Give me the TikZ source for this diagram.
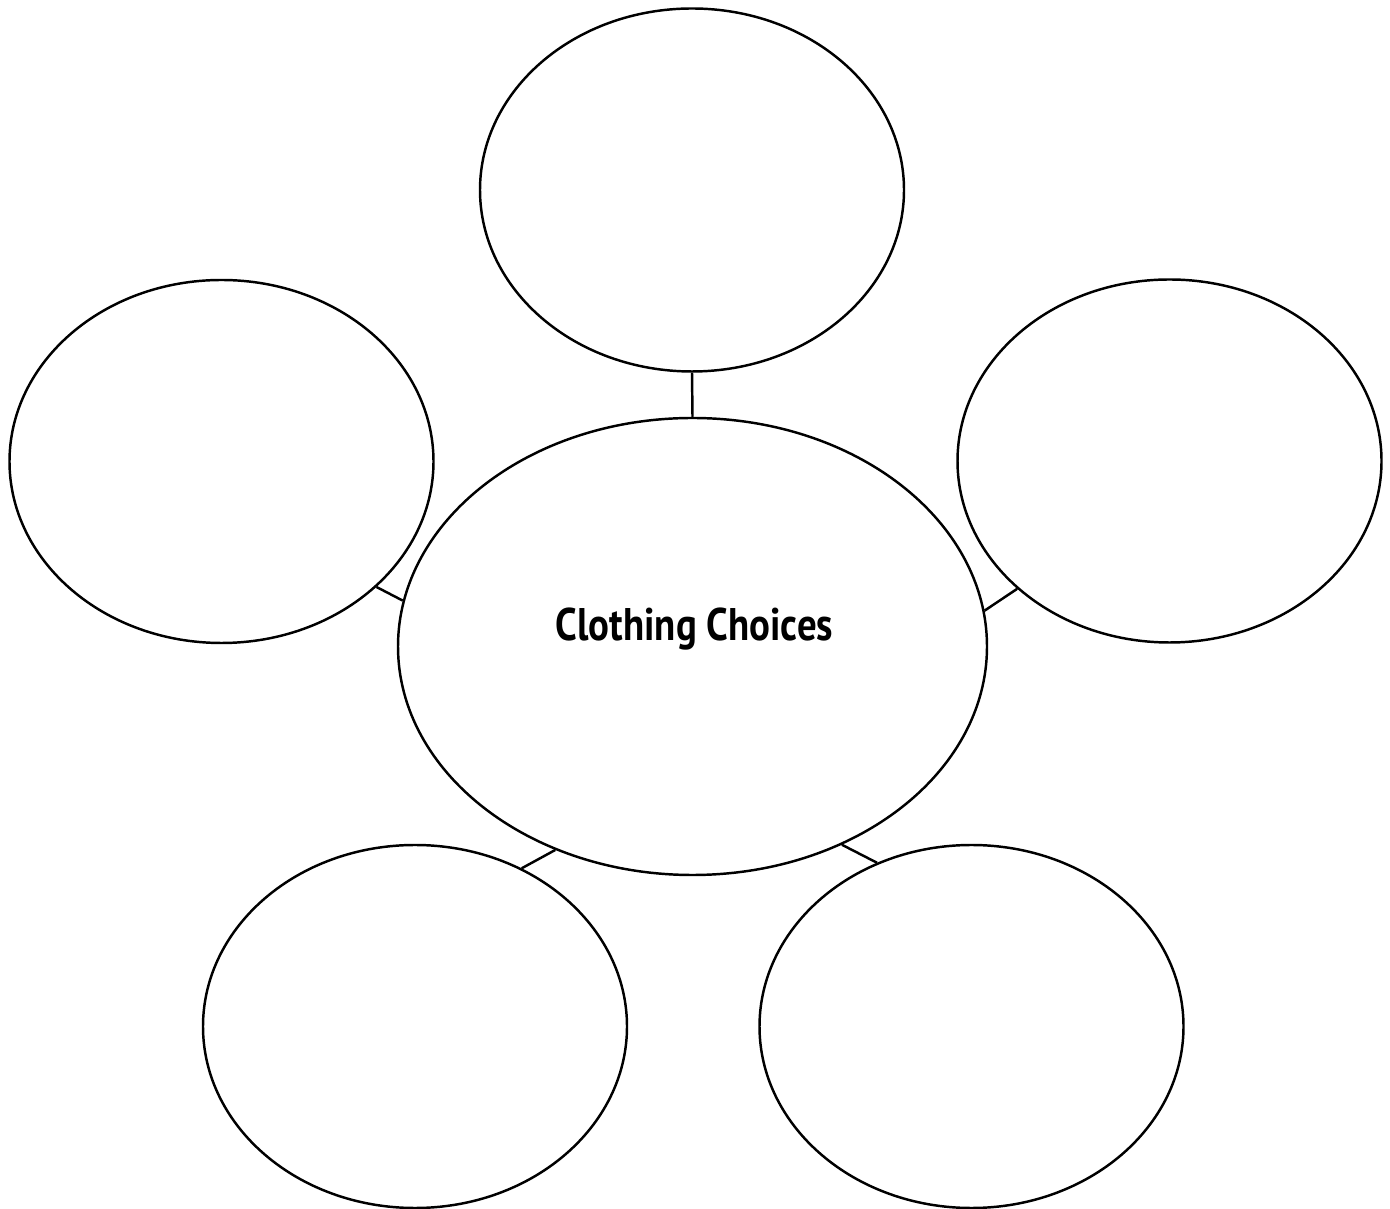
\documentclass[tikz,border=0pt]{standalone}
\usepackage{fontspec}
\newfontfamily\hubfont[FakeStretch=0.85]{PT Sans}
\usetikzlibrary{shapes.geometric, positioning}

\begin{document}
\begin{tikzpicture}[]
    \def\lw{1.4pt}
    \def\satW{8.48cm}
    \def\satH{7.26cm}

    \tikzstyle{bubble} = [draw, ellipse, line width=\lw, inner sep=0pt, minimum width=\satW, minimum height=\satH]
    \tikzstyle{hub} = [bubble, minimum width=11.78cm, minimum height=9.14cm]
    \tikzstyle{spoke} = [line width=\lw]

    \useasboundingbox (0,0) rectangle (27.8,24.16);

    \node (hub) [hub] at (13.85, 11.23) {};
    \node (hubText) [anchor=base, inner sep=0pt, font=\hubfont\bfseries\fontsize{26}{31}\selectfont] at (13.89, 11.34) {Clothing Choices};

    % outer bubbles
    \node (top) [bubble] at (13.84, 20.36) {};
    \node (left) [bubble] at (4.43, 14.93) {};
    \node (right) [bubble] at (23.39, 14.94) {};
    \node (botLeft) [bubble] at (8.30, 3.63) {};
    \node (botRight) [bubble] at (19.43, 3.63) {};

    % spokes to the hub
    \draw [spoke] (top.south) -- (hub.north);
    \draw [spoke] (left.-39.9) -- (hub.171.5);
    \draw [spoke] (right.220) -- (hub.7.7);
    \draw [spoke] (botLeft.56.4) -- (hub.-124);
    \draw [spoke] (botRight.120.3) -- (hub.-53.1);
\end{tikzpicture}
\end{document}
